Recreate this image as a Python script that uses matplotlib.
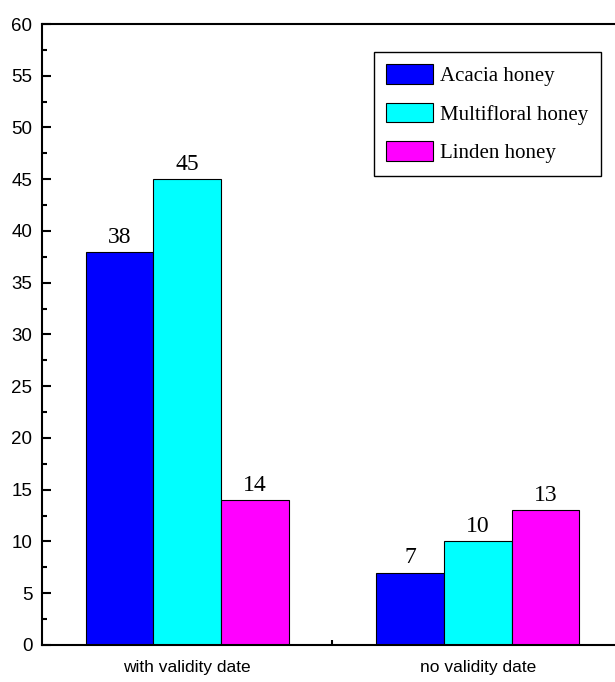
import matplotlib.pyplot as plt
from matplotlib.ticker import MultipleLocator, FixedLocator

categories = ['with validity date', 'no validity date']
acacia = [38, 7]
multifloral = [45, 10]
linden = [14, 13]
series_names = ['Acacia honey', 'Multifloral honey', 'Linden honey']
colors = ['#0000FF', '#00FFFF', '#FF00FF']

sans = ['Liberation Sans', 'DejaVu Sans']
serif = ['Liberation Serif', 'DejaVu Serif']

fig = plt.figure(figsize=(6.15, 6.82), dpi=100)
ax = fig.add_axes([0.0683, 0.0543, 0.9447, 0.9105])

x = [1, 2]
w = 0.233
for i, (vals, name, c) in enumerate(zip([acacia, multifloral, linden], series_names, colors)):
    pos = [xi + (i - 1) * w for xi in x]
    bars = ax.bar(pos, vals, width=w, color=c, edgecolor='black', linewidth=0.8, label=name, zorder=2)
    for b, v in zip(bars, vals):
        ax.text(b.get_x() + b.get_width() / 2, v + 0.4, str(v), ha='center', va='bottom',
                fontsize=17, family=serif)

ax.set_xlim(0.5, 2.5)
ax.set_ylim(0, 60)
ax.set_xticks(x)
ax.set_xticklabels(categories, family=sans, fontsize=12.5)
ax.xaxis.set_minor_locator(FixedLocator([1.5]))
ax.yaxis.set_major_locator(MultipleLocator(5))
ax.yaxis.set_minor_locator(MultipleLocator(2.5))
for lbl in ax.get_yticklabels():
    lbl.set_family(sans)
    lbl.set_fontsize(13.5)

ax.tick_params(axis='y', which='major', direction='in', length=6.5, width=1.5, pad=7)
ax.tick_params(axis='y', which='minor', direction='in', length=3.6, width=1.5)
ax.tick_params(axis='x', which='major', direction='in', length=8, width=1.5, pad=11)
ax.tick_params(axis='x', which='minor', direction='in', length=3.6, width=1.5)

for s in ['left', 'bottom', 'top']:
    ax.spines[s].set_linewidth(1.5)
ax.spines['right'].set_visible(False)

leg = ax.legend(loc='upper right', bbox_to_anchor=(0.962, 0.955), borderaxespad=0,
                prop={'family': serif, 'size': 15}, fancybox=False, edgecolor='black',
                framealpha=1, handlelength=2.26, handleheight=1.06, labelspacing=0.8,
                handletextpad=0.33, borderpad=0.6)
leg.get_frame().set_linewidth(1.0)

fig.savefig('out.png', dpi=100)
